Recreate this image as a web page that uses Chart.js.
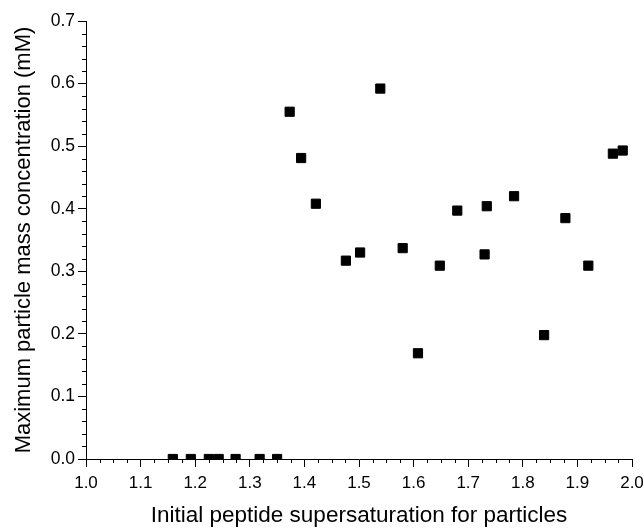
<!DOCTYPE html>
<html>
<head>
<meta charset="utf-8">
<script src="https://cdn.jsdelivr.net/npm/chart.js@4/dist/chart.umd.min.js"></script>
<style>
  html, body { margin: 0; padding: 0; background: #fff; }
  #wrap { width: 644px; height: 529px; }
</style>
</head>
<body>
<div id="wrap"><canvas id="c" width="644" height="529"></canvas></div>
<script>
// Initial supersaturation (x) and maximum particle mass concentration in mM (y)
const supersaturation = [1.159, 1.192, 1.225, 1.243, 1.274, 1.318, 1.350, 1.373, 1.394, 1.421,
                         1.476, 1.502, 1.539, 1.580, 1.608, 1.648, 1.680, 1.730, 1.734, 1.784,
                         1.839, 1.878, 1.920, 1.965, 1.983];
const maxConcentration = [0, 0, 0, 0, 0, 0, 0, 0.555, 0.481, 0.408,
                          0.317, 0.330, 0.592, 0.337, 0.169, 0.309, 0.397, 0.327, 0.404, 0.420,
                          0.198, 0.385, 0.309, 0.488, 0.493];

// Axis ranges and tick spacing
const xRange = [1.0, 2.0];
const yRange = [0.0, 0.7];
const xMajorStep = 0.1, xMinorStep = 0.025;
const yMajorStep = 0.1, yMinorStep = 0.02;

const FONT = "'Liberation Sans', Arial, sans-serif";
const MAJOR_LEN = 8, MINOR_LEN = 4;

// Short minor tick marks between the labelled ones
const minorTicks = {
  id: 'minorTicks',
  afterDraw(chart) {
    const ctx = chart.ctx;
    const xs = chart.scales.x, ys = chart.scales.y;
    const area = chart.chartArea;
    ctx.save();
    ctx.strokeStyle = '#000';
    ctx.lineWidth = 1;
    ctx.beginPath();
    const nx = Math.round((xRange[1] - xRange[0]) / xMinorStep);
    for (let i = 0; i <= nx; i++) {
      if (i % Math.round(xMajorStep / xMinorStep) === 0) continue;
      const px = Math.round(xs.getPixelForValue(xRange[0] + i * xMinorStep)) + 0.5;
      ctx.moveTo(px, area.bottom);
      ctx.lineTo(px, area.bottom + MINOR_LEN);
    }
    const ny = Math.round((yRange[1] - yRange[0]) / yMinorStep);
    for (let i = 0; i <= ny; i++) {
      if (i % Math.round(yMajorStep / yMinorStep) === 0) continue;
      const py = Math.round(ys.getPixelForValue(yRange[0] + i * yMinorStep)) + 0.5;
      ctx.moveTo(area.left, py);
      ctx.lineTo(area.left - MINOR_LEN, py);
    }
    ctx.stroke();
    ctx.restore();
  }
};

new Chart(document.getElementById('c'), {
  type: 'scatter',
  data: {
    datasets: [{
      data: supersaturation.map((x, i) => ({ x: x, y: maxConcentration[i] })),
      pointStyle: 'rect',
      pointRadius: 6.5,
      pointHoverRadius: 6.5,
      backgroundColor: '#000',
      borderColor: '#000',
      borderWidth: 1,
      clip: 0
    }]
  },
  options: {
    responsive: false,
    animation: false,
    devicePixelRatio: 1,
    layout: { padding: { left: 0, top: 21, right: 12, bottom: 0 } },
    plugins: { legend: { display: false }, tooltip: { enabled: false } },
    scales: {
      x: {
        type: 'linear',
        min: xRange[0], max: xRange[1],
        afterFit(scale) {
          scale.height = 70;
          scale.paddingLeft = 0;
          scale.paddingRight = 0;
        },
        ticks: {
          stepSize: xMajorStep,
          color: '#000',
          font: { family: FONT, size: 17 },
          padding: 6,
          maxRotation: 0,
          callback: v => v.toFixed(1)
        },
        grid: { drawOnChartArea: false, drawTicks: true, tickLength: MAJOR_LEN, color: '#000' },
        border: { display: true, color: '#000', width: 1 },
        title: {
          display: true,
          text: 'Initial peptide supersaturation for particles',
          color: '#000',
          font: { family: FONT, size: 22.5 },
          padding: { top: 0, bottom: 0 }
        }
      },
      y: {
        type: 'linear',
        min: yRange[0], max: yRange[1],
        afterFit(scale) { scale.width = 86; },
        ticks: {
          stepSize: yMajorStep,
          color: '#000',
          font: { family: FONT, size: 17.5 },
          padding: 3,
          callback: v => v.toFixed(1)
        },
        grid: { drawOnChartArea: false, drawTicks: true, tickLength: MAJOR_LEN, color: '#000' },
        border: { display: true, color: '#000', width: 1 },
        title: {
          display: true,
          text: 'Maximum particle mass concentration (mM)',
          color: '#000',
          font: { family: FONT, size: 22 },
          padding: { top: 11, bottom: 0 }
        }
      }
    }
  },
  plugins: [minorTicks]
});
</script>
</body>
</html>
